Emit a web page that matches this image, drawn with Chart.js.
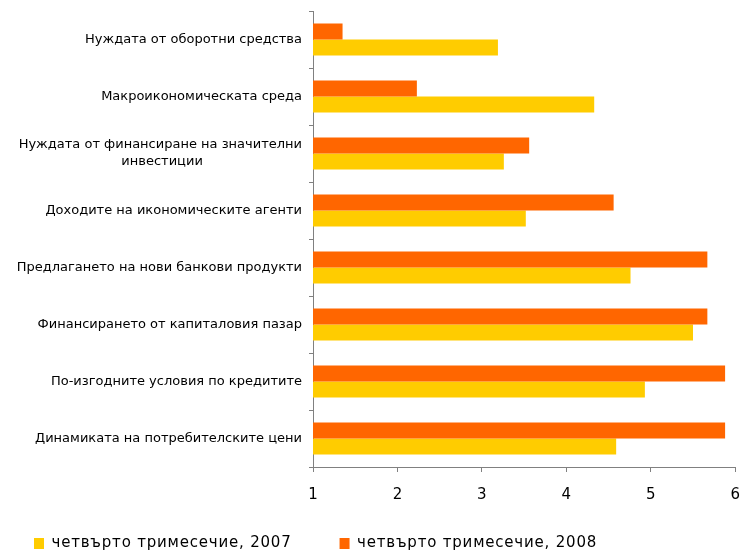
<!DOCTYPE html>
<html>
<head>
<meta charset="utf-8">
<script src="https://cdn.jsdelivr.net/npm/chart.js@4.4.1/dist/chart.umd.min.js"></script>
<style>
    html, body { margin: 0; padding: 0; background: #fff; }
    #wrap { width: 754px; height: 552px; position: relative; }
</style>
</head>
<body>
<div id="wrap"><canvas id="faktoriChart"></canvas></div>
<script>
var kategorii = [
    'Нуждата от оборотни средства',
    'Макроикономическата среда',
    ['Нуждата от финансиране на значителни', 'инвестиции'],
    'Доходите на икономическите агенти',
    'Предлагането на нови банкови продукти',
    'Финансирането от капиталовия пазар',
    'По-изгодните условия по кредитите',
    'Динамиката на потребителските цени'
];
var stojnosti2007 = [3.19, 4.33, 3.26, 3.52, 4.76, 5.50, 4.93, 4.59];
var stojnosti2008 = [1.35, 2.23, 3.56, 4.56, 5.67, 5.67, 5.88, 5.88];
var xTikove = [1, 2, 3, 4, 5, 6];

var etiketFont = '13px "DejaVu Sans"';
var merki = document.createElement('canvas').getContext('2d');
merki.font = etiketFont;

// многоредовите етикети се центрират като в Excel
function centriraj(label) {
    if (!Array.isArray(label)) return label;
    var shir = label.map(function (l) { return merki.measureText(l).width; });
    var maks = Math.max.apply(null, shir);
    var spc = merki.measureText(' ').width;
    return label.map(function (l, i) {
        var n = Math.round((maks - shir[i]) / 2 / spc);
        return l + ' '.repeat(n);
    });
}

// разредка на буквите само в легендата
var razredkaLegenda = {
    id: 'razredkaLegenda',
    beforeLayout: function (chart) {
        var leg = chart.legend;
        if (!leg || leg._razredka) return;
        leg._razredka = true;
        ['fit', 'draw'].forEach(function (m) {
            var orig = leg[m];
            leg[m] = function () {
                var c = chart.ctx;
                var staro = c.letterSpacing;
                c.letterSpacing = '0.8px';
                var r = orig.apply(this, arguments);
                c.letterSpacing = staro || '0px';
                return r;
            };
        });
    }
};

var ctx = document.getElementById('faktoriChart').getContext('2d');

var faktoriChart = new Chart(ctx, {
    type: 'bar',
    data: {
        labels: kategorii,
        datasets: [{
            label: 'четвърто тримесечие, 2008',
            data: stojnosti2008,
            backgroundColor: '#FF6600',
            borderWidth: 0
        }, {
            label: 'четвърто тримесечие, 2007',
            data: stojnosti2007,
            backgroundColor: '#FFCC00',
            borderWidth: 0
        }]
    },
    plugins: [razredkaLegenda],
    options: {
        indexAxis: 'y',
        responsive: true,
        maintainAspectRatio: false,
        animation: false,
        datasets: {
            bar: { categoryPercentage: 0.56, barPercentage: 1.0 }
        },
        layout: {
            padding: { left: -14, right: 18, top: 11, bottom: -9 }
        },
        scales: {
            x: {
                min: 1,
                max: 6,
                afterBuildTicks: function (scale) {
                    scale.ticks = xTikove.map(function (v) { return { value: v }; });
                },
                afterFit: function (scale) {
                    scale.height = 21;
                    // етикетите излизат под оста, без изрязване
                    scale._computeLabelArea = function () { return undefined; };
                },
                grid: {
                    drawOnChartArea: false,
                    drawTicks: true,
                    tickLength: 5,
                    color: '#808080'
                },
                border: { color: '#808080', width: 1 },
                ticks: {
                    color: '#000',
                    padding: 14,
                    font: { family: 'DejaVu Sans', size: 15 }
                }
            },
            y: {
                afterFit: function (scale) {
                    scale.width = 327;
                    scale.paddingTop = 0;
                    scale.paddingBottom = 0;
                },
                grid: {
                    drawOnChartArea: false,
                    drawTicks: true,
                    tickLength: 4,
                    offset: true,
                    color: '#808080'
                },
                border: { color: '#808080', width: 1 },
                ticks: {
                    color: '#000',
                    padding: 7,
                    autoSkip: false,
                    font: { family: 'DejaVu Sans', size: 13, lineHeight: 1.3 },
                    callback: function (value) {
                        return centriraj(this.getLabelForValue(value));
                    }
                }
            }
        },
        plugins: {
            legend: {
                display: true,
                position: 'bottom',
                align: 'start',
                reverse: true,
                labels: {
                    boxWidth: 10,
                    boxHeight: 11,
                    padding: 48,
                    color: '#000',
                    font: { family: 'DejaVu Sans', size: 15 }
                }
            },
            tooltip: { enabled: false }
        }
    }
});
</script>
</body>
</html>
